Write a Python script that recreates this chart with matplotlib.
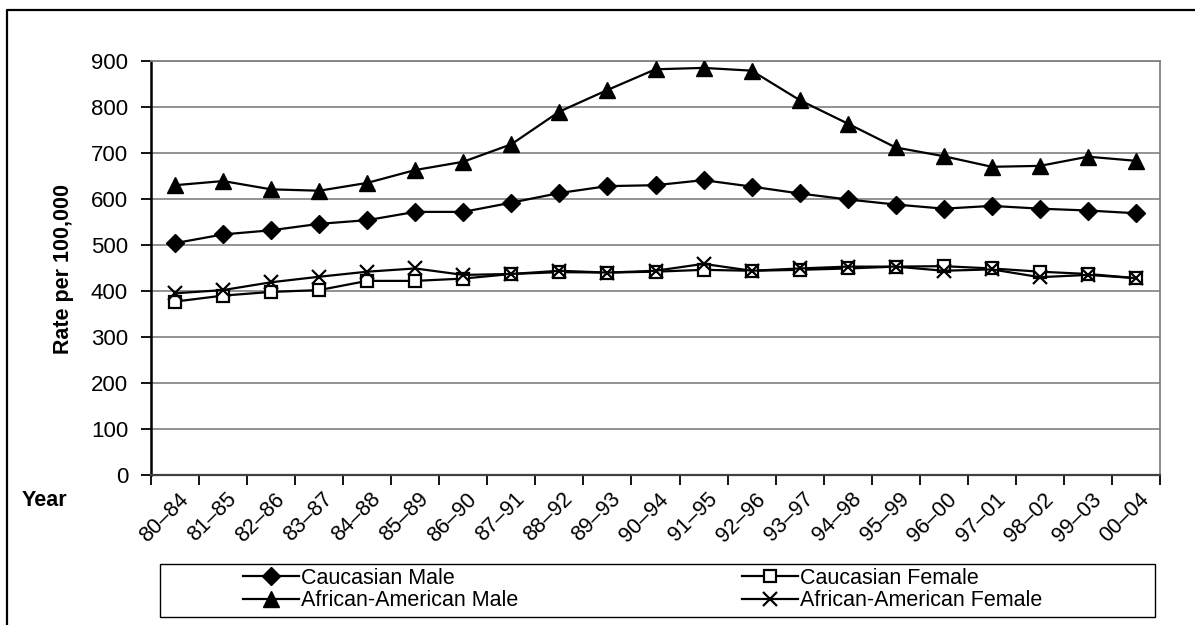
import matplotlib.pyplot as plt
from matplotlib.lines import Line2D
from matplotlib.patches import Rectangle
from matplotlib.transforms import ScaledTranslation
import numpy as np

plt.rcParams['font.family'] = ['Liberation Sans', 'DejaVu Sans']

# 5-year moving windows
periods = ["80–84", "81–85", "82–86", "83–87", "84–88", "85–89", "86–90",
           "87–91", "88–92", "89–93", "90–94", "91–95", "92–96", "93–97",
           "94–98", "95–99", "96–00", "97–01", "98–02", "99–03", "00–04"]

# rates per 100,000
cauc_male = [504, 523, 532, 546, 554, 572, 572, 592, 613, 628, 630,
             641, 627, 612, 599, 588, 579, 585, 579, 575, 569]
cauc_female = [377, 390, 398, 402, 422, 422, 427, 437, 441, 440, 442,
               446, 444, 446, 449, 453, 454, 449, 442, 437, 428]
aa_male = [630, 639, 621, 618, 635, 663, 681, 719, 790, 837, 882,
           885, 879, 815, 764, 712, 693, 670, 672, 692, 683]
aa_female = [395, 402, 419, 431, 442, 449, 435, 437, 444, 440, 444,
             459, 444, 449, 453, 453, 444, 447, 430, 435, 428]

fig = plt.figure(figsize=(11.95, 6.25), dpi=100)
ax = fig.add_axes([151 / 1195, 1 - 475 / 625, (1160 - 151) / 1195, (475 - 61) / 625])

x = np.arange(len(periods))
lw = 1.6
ax.plot(x, cauc_male, color='black', lw=lw, marker='D', ms=9.5,
        mfc='black', mec='black', label='Caucasian Male', zorder=4)
ax.plot(x, aa_male, color='black', lw=lw, marker='^', ms=12,
        mfc='black', mec='black', label='African-American Male', zorder=4)
ax.plot(x, cauc_female, color='black', lw=lw, marker='s', ms=9,
        mfc='white', mec='black', mew=1.6, label='Caucasian Female', zorder=4)
ax.plot(x, aa_female, color='black', lw=lw, marker='x', ms=10,
        mec='black', mew=1.6, label='African-American Female', zorder=5)

ax.set_xlim(-0.5, len(periods) - 0.5)
ax.set_ylim(0, 900)
ax.set_yticks(range(0, 901, 100))
ax.yaxis.grid(True, color='#808080', lw=1.2)
ax.set_axisbelow(True)

# category ticks sit between labels
ax.set_xticks(np.arange(len(periods) + 1) - 0.5)
ax.set_xticklabels([])
ax.set_xticks(x, minor=True)
ax.set_xticklabels(periods, minor=True, rotation=45, ha='right', va='top',
                   rotation_mode='anchor', fontsize=15.5)
ax.tick_params(axis='x', which='minor', length=0, pad=10)
ax.tick_params(axis='x', which='major', length=7, width=1.3, direction='out')
ax.tick_params(axis='y', length=7, width=1.3, direction='out', labelsize=16, pad=9.5)

shift = ScaledTranslation(3 / 100, 0, fig.dpi_scale_trans)
for lbl in ax.get_xticklabels(minor=True):
    lbl.set_transform(lbl.get_transform() + shift)

for side in ['top', 'right']:
    ax.spines[side].set_color('#808080')
    ax.spines[side].set_linewidth(1.3)
ax.spines['left'].set_color('black')
ax.spines['left'].set_linewidth(1.8)
ax.spines['bottom'].set_color('#404040')
ax.spines['bottom'].set_linewidth(1.6)

fig.text(63 / 1195, 1 - 269 / 625, 'Rate per 100,000', rotation=90,
         ha='center', va='center', fontsize=15.5, fontweight='bold')
fig.text(22 / 1195, 1 - 501 / 625, 'Year', ha='left', va='center',
         fontsize=15.5, fontweight='bold')

# legend box
fig.patches.append(Rectangle((160 / 1195, 1 - 617 / 625), (1155 - 160) / 1195,
                             (617 - 564) / 625, transform=fig.transFigure,
                             fill=False, ec='black', lw=1.0))
handles, labels = ax.get_legend_handles_labels()
fig.legend(handles, labels, ncol=2, loc='upper left',
           bbox_to_anchor=(243 / 1195, 1 - 568 / 625), frameon=False,
           fontsize=15.5, handlelength=2.6, handletextpad=0.1,
           columnspacing=10.4, labelspacing=0.05, borderpad=0, borderaxespad=0)

# outer frame (left and top edges)
fig.lines.append(Line2D([7 / 1195, 7 / 1195, 1.0], [0.0, 1 - 10 / 625, 1 - 10 / 625],
                        transform=fig.transFigure, color='black', lw=1.6))

fig.savefig('out.png', dpi=100)
